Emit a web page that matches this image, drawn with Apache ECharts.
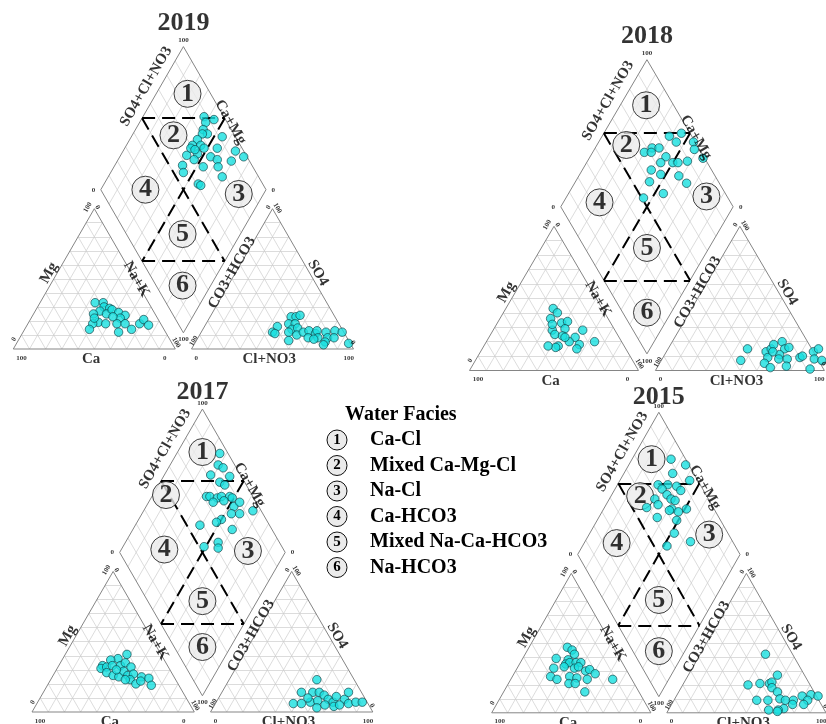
<!DOCTYPE html>
<html>
<head>
<meta charset="utf-8">
<script src="https://cdn.jsdelivr.net/npm/echarts@6/dist/echarts.min.js"></script>
<style>
html, body { margin: 0; padding: 0; background: #fff; }
#chart { width: 826px; height: 724px; }
</style>
</head>
<body>
<div id="chart"></div>
<script>
// cation triangle: [Ca %, Mg %]  (Na+K = rest)
const cation2019 = [[33,33],[28,33],[29,30],[26,29],[33,27],[38,25],[30,25],[25,28],[22,26],[19,24],[23,22],[38,19],[34,18],[42,18],[46,14],[27,18],[22,18],[20,14],[29,12],[13,18],[9,21],[8,17],[39,22],[27,23]];
const cation2018 = [[29,43],[28,40],[34,36],[29,33],[25,34],[29,29],[37,28],[37,25],[33,24],[26,23],[19,28],[31,20],[26,18],[29,15],[39,17],[41,16],[45,17],[16,20],[32,23],[35,32]];
const cation2017 = [[21,41],[28,38],[33,37],[40,33],[42,31],[38,32],[34,33],[29,33],[25,35],[23,32],[40,28],[37,26],[34,25],[29,29],[28,26],[24,27],[28,23],[26,20],[20,25],[16,24],[17,19],[22,22],[31,23],[33,30]];
const cation2015 = [[29,47],[27,45],[27,42],[40,39],[33,38],[36,35],[33,36],[29,36],[26,36],[45,32],[38,33],[32,32],[29,33],[26,30],[23,31],[21,28],[50,26],[47,24],[38,26],[41,21],[34,25],[28,24],[34,15],[12,24],[37,21]];

// anion triangle: [Cl+NO3 %, SO4 %]  (CO3+HCO3 = rest)
const anion2019 = [[50,23],[53,23],[55,24],[51,18],[55,18],[55,14],[58,15],[45,16],[44,12],[46,11],[54,12],[60,10],[63,12],[66,13],[68,8],[71,11],[71,13],[74,8],[77,12],[80,8],[80,5],[82,13],[84,8],[87,12],[95,4],[57,6],[72,7],[80,3]];
const anion2018 = [[47,15],[47,7],[59,13],[61,15],[61,18],[65,20],[69,15],[68,11],[71,16],[62,9],[62,5],[67,2],[69,8],[74,8],[76,3],[81,9],[82,10],[87,13],[89,15],[90,8],[95,7],[91,1],[63,13]];
const anion2017 = [[54,23],[49,14],[56,14],[60,14],[64,12],[48,6],[53,6],[58,7],[62,8],[64,3],[68,9],[72,7],[72,11],[78,9],[78,14],[82,6],[86,7],[90,7],[74,4],[77,5],[68,5],[55,10]];
const anion2015 = [[41,42],[56,27],[41,20],[48,21],[54,21],[55,22],[57,18],[62,15],[52,9],[59,9],[66,10],[70,9],[75,9],[79,12],[84,13],[84,9],[83,6],[76,6],[72,3],[69,2],[63,2],[69,1],[89,12]];

// diamond: [Ca+Mg %, SO4+Cl+NO3 %]
const diamond2019 = [[63,88],[60,87],[56,93],[59,83],[55,84],[58,81],[59,76],[45,92],[60,71],[55,76],[44,85],[52,77],[54,71],[45,78],[60,64],[32,95],[25,98],[31,89],[40,81],[54,67],[59,58],[46,70],[37,79],[56,56],[31,78],[43,61],[41,62],[60,69],[57,71]];
const diamond2018 = [[61,87],[55,95],[55,89],[45,99],[67,73],[63,77],[70,67],[66,71],[56,78],[50,80],[57,73],[47,83],[42,89],[42,97],[34,99],[60,65],[53,69],[42,79],[57,60],[35,81],[45,64],[55,51]];
const diamond2017 = [[74,95],[71,90],[67,92],[72,82],[60,93],[64,85],[60,87],[67,72],[65,74],[60,78],[58,81],[53,86],[51,87],[61,74],[55,81],[47,85],[46,81],[41,86],[50,73],[52,69],[40,76],[44,63],[42,61],[51,53],[61,58],[34,95],[45,90]];
const diamond2015 = [[76,91],[65,98],[70,87],[57,95],[75,74],[69,80],[63,85],[71,75],[59,86],[66,76],[62,77],[59,79],[72,67],[68,67],[74,59],[58,74],[49,83],[53,77],[64,62],[59,72],[51,73],[48,67],[35,74],[48,58]];

const faciesNames = ['Ca-Cl', 'Mixed Ca-Mg-Cl', 'Na-Cl', 'Ca-HCO3', 'Mixed Na-Ca-HCO3', 'Na-HCO3'];

// panel placement (pixel origin = cation triangle bottom-left, px per unit)
const panels = [
    { year: '2019', ox: 13.3, oy: 349, kx: 1.62, ky: 1.62, titleY: 201, cation: cation2019, anion: anion2019, diamond: diamond2019,
      facies: [[81,86],[75,63],[15,82],[73,27],[35,34],[17,16]] },
    { year: '2018', ox: 469.5, oy: 370.5, kx: 1.69, ky: 1.665, titleY: 201, cation: cation2018, anion: anion2018, diamond: diamond2018,
      facies: [[85,84],[83,59],[19,88],[79,24],[36,36],[14,14]] },
    { year: '2017', ox: 32, oy: 712, kx: 1.623, ky: 1.623, titleY: 197, cation: cation2017, anion: anion2017, diamond: diamond2017,
      facies: [[85,85],[92,48],[23,78],[74,28],[33,33],[17,17]] },
    { year: '2015', ox: 491.7, oy: 712.8, kx: 1.61, ky: 1.61, titleY: 196, cation: cation2015, anion: anion2015, diamond: diamond2015,
      facies: [[88,79],[82,59],[26,88],[80,28],[34,34],[16,16]] }
];

const SERIF = '"Liberation Serif", "Times New Roman", serif';
const H = Math.sqrt(3) / 2;
const GAP = 10, DSIDE = 102, DBOT = 10;
const XMAX = 210, YMAX = DBOT + DSIDE * 2 * H;

function cationXY(ca, mg) {
    let nak = 100 - ca - mg;
    return [nak + mg / 2, mg * H];
}
function anionXY(cl, so4) {
    return [100 + GAP + cl + so4 / 2, so4 * H];
}
function diamondXY(camg, so4cl) {
    let m = camg / 100, s = so4cl / 100;
    return [100 + GAP / 2 + (s - m) * DSIDE / 2, DBOT + (s + m) * DSIDE * H];
}
function lerp(a, b, t) {
    return [a[0] + (b[0] - a[0]) * t, a[1] + (b[1] - a[1]) * t];
}

// frame geometry
const catA = cationXY(100, 0), catB = cationXY(0, 0), catC = cationXY(0, 100);
const anA = anionXY(0, 0), anB = anionXY(100, 0), anC = anionXY(0, 100);
const dB = diamondXY(0, 0), dL = diamondXY(100, 0), dR = diamondXY(0, 100), dT = diamondXY(100, 100);

function triGrid(a, b, c) {
    let out = [];
    for (let i = 1; i < 10; i++) {
        let t = i / 10;
        out.push({ coords: [lerp(a, c, t), lerp(b, c, t)] });
        out.push({ coords: [lerp(a, b, t), lerp(c, b, t)] });
        out.push({ coords: [lerp(b, a, t), lerp(c, a, t)] });
    }
    return out;
}
function diamondGrid() {
    let out = [];
    for (let i = 1; i < 10; i++) {
        let t = i / 10;
        out.push({ coords: [lerp(dB, dR, t), lerp(dL, dT, t)] });
        out.push({ coords: [lerp(dB, dL, t), lerp(dR, dT, t)] });
    }
    return out;
}
const gridSegs = triGrid(catA, catB, catC).concat(triGrid(anA, anB, anC), diamondGrid());
const borderSegs = [
    { coords: [catA, catB, catC, catA] },
    { coords: [anA, anB, anC, anA] },
    { coords: [dB, dR, dT, dL, dB] }
];
const dashSegs = [
    { coords: [diamondXY(100, 50), diamondXY(50, 100)] },
    { coords: [diamondXY(100, 50), diamondXY(0, 50)] },
    { coords: [diamondXY(50, 100), diamondXY(50, 0)] },
    { coords: [diamondXY(50, 0), diamondXY(0, 50)] }
];

// text placed in diagram units: [text, x, y, rotate, size]
const axisTexts = [
    ['SO4+Cl+NO3', 82, 162, 60, 15],
    ['Ca+Mg', 134, 140, -60, 15],
    ['Mg', 22, 47, 60, 15],
    ['Na+K', 76, 43, -60, 15],
    ['Ca', 48, -6.5, 0, 15],
    ['CO3+HCO3', 135, 47, 60, 15],
    ['SO4', 188, 47, -60, 15],
    ['Cl+NO3', 158, -6.5, 0, 15],
    ['100', 105, 190.5, 0, 7],
    ['0', 49.5, 98.3, 0, 7],
    ['0', 160.5, 98.3, 0, 7],
    ['100', 105, 5.8, 0, 7],
    ['100', 5, -5.5, 0, 7],
    ['0', 93.5, -5.5, 0, 7],
    ['0', 0.5, 6, 60, 7],
    ['100', 46, 87.5, 60, 7],
    ['0', 52, 87.5, -60, 7],
    ['100', 100.5, 4, -60, 7],
    ['0', 113, -5.5, 0, 7],
    ['100', 207, -5.5, 0, 7],
    ['100', 111.5, 5, 60, 7],
    ['0', 157.5, 87.5, 60, 7],
    ['100', 163, 87, -60, 7],
    ['0', 209.5, 4, -60, 7]
];

const pointStyle = { color: '#18e0e0', borderColor: '#10393d', borderWidth: 0.8 };

let grids = [], xAxes = [], yAxes = [], series = [];
panels.forEach(function (p, i) {
    grids.push({ left: p.ox, top: p.oy - YMAX * p.ky, width: XMAX * p.kx, height: YMAX * p.ky });
    xAxes.push({ type: 'value', gridIndex: i, min: 0, max: XMAX, show: false });
    yAxes.push({ type: 'value', gridIndex: i, min: 0, max: YMAX, show: false });
    let axisRef = { xAxisIndex: i, yAxisIndex: i };

    series.push(Object.assign({
        type: 'lines', coordinateSystem: 'cartesian2d', silent: true, clip: false, z: 1,
        lineStyle: { color: '#cdcdcd', width: 0.7, opacity: 1 },
        data: gridSegs
    }, axisRef));
    series.push(Object.assign({
        type: 'lines', coordinateSystem: 'cartesian2d', polyline: true, silent: true, clip: false, z: 2,
        lineStyle: { color: '#858585', width: 1, opacity: 1 },
        data: borderSegs
    }, axisRef));
    series.push(Object.assign({
        type: 'lines', coordinateSystem: 'cartesian2d', silent: true, clip: false, z: 3,
        lineStyle: { color: '#000', width: 2, type: [13, 7], opacity: 1 },
        data: dashSegs
    }, axisRef));
    // facies zone markers
    series.push(Object.assign({
        type: 'scatter', silent: true, clip: false, z: 4,
        symbolSize: 27,
        itemStyle: { color: '#ebebeb', borderColor: '#111', borderWidth: 1 },
        label: { show: true, position: 'inside', color: '#000', fontFamily: SERIF, fontWeight: 'bold', fontSize: 26,
                 formatter: function (d) { return String(d.dataIndex + 1); } },
        data: p.facies.map(function (f) { return diamondXY(f[0], f[1]); })
    }, axisRef));
    // samples
    [p.cation.map(function (d) { return cationXY(d[0], d[1]); }),
     p.anion.map(function (d) { return anionXY(d[0], d[1]); }),
     p.diamond.map(function (d) { return diamondXY(d[0], d[1]); })].forEach(function (pts) {
        series.push(Object.assign({
            type: 'scatter', silent: true, clip: false, z: 5,
            symbolSize: 8.5, itemStyle: pointStyle, data: pts
        }, axisRef));
    });
    // texts
    let texts = axisTexts.map(function (t) {
        return { value: [t[1], t[2]], label: { formatter: t[0], rotate: t[3], fontSize: t[4] } };
    });
    texts.push({ value: [105, p.titleY], label: { formatter: p.year, rotate: 0, fontSize: 26 } });
    series.push(Object.assign({
        type: 'scatter', silent: true, clip: false, z: 6,
        symbolSize: 1, itemStyle: { color: 'transparent' },
        label: { show: true, position: 'inside', color: '#000', fontFamily: SERIF, fontWeight: 'bold' },
        data: texts
    }, axisRef));
});

// legend block
let legend = [{
    type: 'text', x: 345, y: 415,
    style: { text: 'Water Facies', font: 'bold 20px ' + SERIF, fill: '#000', textAlign: 'left', textVerticalAlign: 'middle' }
}];
faciesNames.forEach(function (name, i) {
    let cy = 440 + i * 25.5;
    legend.push({ type: 'circle', shape: { cx: 337, cy: cy, r: 10 }, style: { fill: '#ebebeb', stroke: '#111', lineWidth: 1 } });
    legend.push({ type: 'text', x: 337, y: cy, style: { text: String(i + 1), font: 'bold 15px ' + SERIF, fill: '#000', textAlign: 'center', textVerticalAlign: 'middle' } });
    legend.push({ type: 'text', x: 370, y: cy, style: { text: name, font: 'bold 20px ' + SERIF, fill: '#000', textAlign: 'left', textVerticalAlign: 'middle' } });
});

var myChart = echarts.init(document.getElementById('chart'));
myChart.setOption({
    animation: false,
    backgroundColor: '#fff',
    grid: grids,
    xAxis: xAxes,
    yAxis: yAxes,
    series: series,
    graphic: legend
});
</script>
</body>
</html>
